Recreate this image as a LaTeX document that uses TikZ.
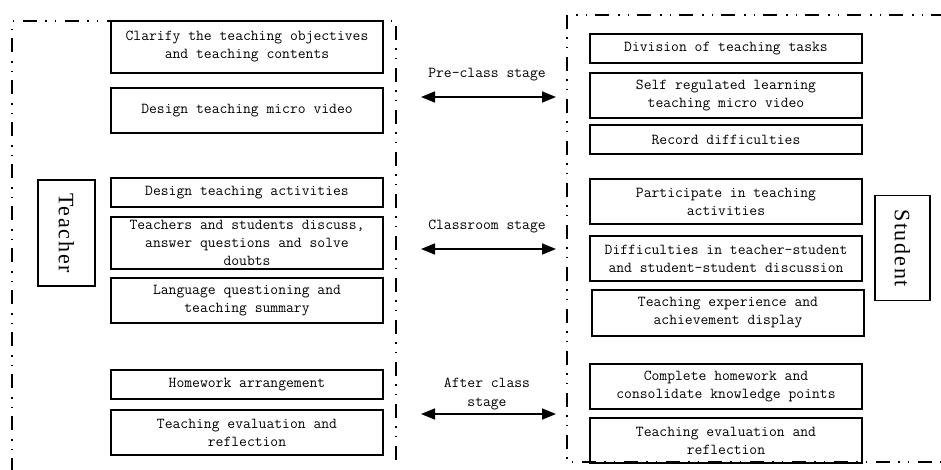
\documentclass[tikz,border=0pt]{standalone}
\usepackage{fontspec}
\newfontfamily\rolefont{Liberation Serif}
\usetikzlibrary{arrows.meta}
\begin{document}
\begin{tikzpicture}[x=1pt, y=-1pt,
		task/.style={draw, line width=1.6pt, minimum width=272pt, inner sep=0pt, align=center,
			font=\fontsize{15.2}{18}\selectfont\ttfamily},
		role/.style={draw, line width=1.6pt, inner sep=0pt, font=\fontsize{22}{24}\selectfont\rolefont},
		stage/.style={align=center, font=\fontsize{15.2}{19.5}\selectfont\ttfamily},
		frame/.style={line width=1.3pt, dash pattern=on 14pt off 8pt on 1.5pt off 8pt on 1.5pt off 9pt},
		link/.style={line width=1.6pt, {Triangle[length=14pt, width=11pt]}-{Triangle[length=14pt, width=11pt]}}]
		\useasboundingbox (0, 0) rectangle (941, 469);
		\draw[frame] (12, 472) -- (12, 21) -- (396, 21) -- (396, 466);
		\draw[frame] (945, 15) -- (567, 15) -- (567, 462) -- (945, 462);

		\node[role, minimum width=57pt, minimum height=106pt] (teacher) at (66.5, 233) {\rotatebox{-90}{\addfontfeature{LetterSpace=8}Teacher}};
		\node[role, minimum width=55pt, minimum height=105pt] (student) at (902.5, 248) {\rotatebox{-90}{\addfontfeature{LetterSpace=8}Student}};

		\node[task, minimum height=52pt] (t1) at (247, 47) {Clarify the teaching objectives\\and teaching contents};
		\node[task, minimum height=45pt] (t2) at (247, 110.5) {Design teaching micro video};
		\node[task, minimum height=29pt] (t3) at (247, 192.5) {Design teaching activities};
		\node[task, minimum height=52pt] (t4) at (247, 243) {Teachers and students discuss,\\answer questions and solve\\doubts};
		\node[task, minimum height=45pt] (t5) at (247, 300.5) {Language questioning and\\teaching summary};
		\node[task, minimum height=29pt] (t6) at (247, 384.5) {Homework arrangement};
		\node[task, minimum height=45pt] (t7) at (247, 432.5) {Teaching evaluation and\\reflection};

		\node[task, minimum height=29pt] (s1) at (726, 48.5) {Division of teaching tasks};
		\node[task, minimum height=45pt] (s2) at (726, 95.5) {Self regulated learning\\teaching micro video};
		\node[task, minimum height=29pt] (s3) at (726, 139.5) {Record difficulties};
		\node[task, minimum height=45pt] (s4) at (726, 201.5) {Participate in teaching\\activities};
		\node[task, minimum height=45pt] (s5) at (726, 258.5) {Difficulties in teacher-student\\and student-student discussion};
		\node[task, minimum height=46pt] (s6) at (728, 313) {Teaching experience and\\achievement display};
		\node[task, minimum height=45pt] (s7) at (726, 386.5) {Complete homework and\\consolidate knowledge points};
		\node[task, minimum height=45pt] (s8) at (726, 440.5) {Teaching evaluation and\\reflection};

		\node[stage] (pre) at (487, 75) {Pre-class stage};
		\node[stage] (room) at (487, 226) {Classroom stage};
		\node[stage] (after) at (487, 394) {After class\\stage};

		\coordinate (preL) at (421, 97);
		\coordinate (preR) at (556, 97);
		\coordinate (roomL) at (421, 249);
		\coordinate (roomR) at (556, 249);
		\coordinate (afterL) at (421, 414);
		\coordinate (afterR) at (556, 414);
		\draw[link] (preL) -- (preR);
		\draw[link] (roomL) -- (roomR);
		\draw[link] (afterL) -- (afterR);
	\end{tikzpicture}
\end{document}
